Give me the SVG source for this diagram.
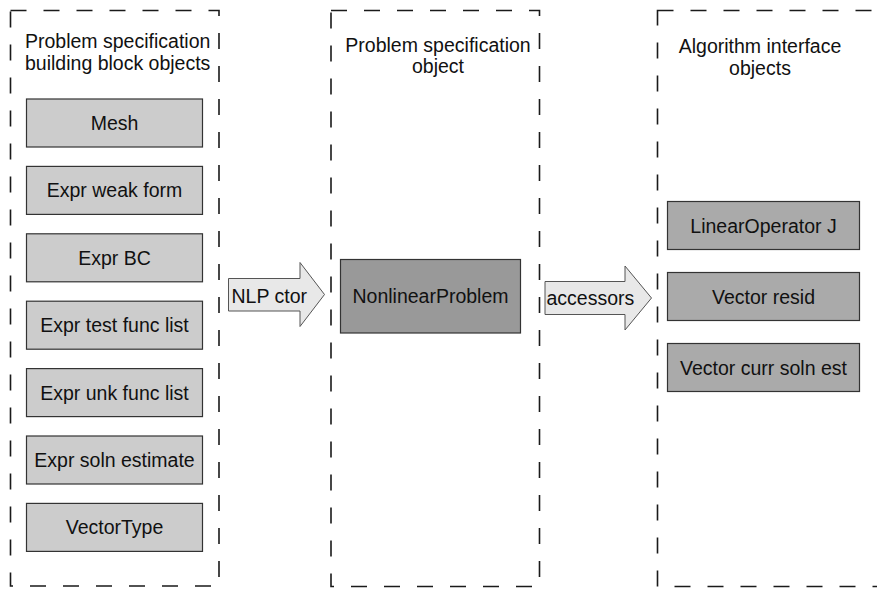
<svg xmlns="http://www.w3.org/2000/svg" width="877" height="589" viewBox="0 0 877 589">
<style>
  .frame { fill: none; stroke: #1a1a1a; stroke-width: 1.6; stroke-dasharray: 16 17; }
  .lbox { fill: #cccccc; stroke: #333333; stroke-width: 1.2; }
  .rbox { fill: #aaaaaa; stroke: #333333; stroke-width: 1.2; }
  .cbox { fill: #999999; stroke: #333333; stroke-width: 1.2; }
  .arrow { fill: #e8e8e8; stroke: #555555; stroke-width: 1; }
  text { font-family: "Liberation Sans", Arial, sans-serif; font-size: 19.5px; fill: #111111; }
  .c { text-anchor: middle; }
</style>
<rect width="877" height="589" fill="#ffffff"/>
<g id="frames">
  <rect class="frame" x="10.5" y="10.5" width="208.5" height="575.5"/>
  <rect class="frame" x="331" y="10.5" width="208.5" height="576"/>
  <rect class="frame" x="657.5" y="10.5" width="240" height="576"/>
</g>
<g id="titles">
  <text x="25" y="48">Problem specification</text>
  <text x="25" y="70">building block objects</text>
  <text class="c" x="438" y="52">Problem specification</text>
  <text class="c" x="438" y="73">object</text>
  <text class="c" x="760" y="53">Algorithm interface</text>
  <text class="c" x="760" y="75">objects</text>
</g>
<g id="node-mesh"><rect class="lbox" x="26.5" y="99" width="176" height="48"/><text class="c" x="114.5" y="130">Mesh</text></g>
<g id="node-weak"><rect class="lbox" x="26.5" y="166.4" width="176" height="48"/><text class="c" x="114.5" y="197.4">Expr weak form</text></g>
<g id="node-bc"><rect class="lbox" x="26.5" y="233.8" width="176" height="48"/><text class="c" x="114.5" y="264.8">Expr BC</text></g>
<g id="node-test"><rect class="lbox" x="26.5" y="301.2" width="176" height="48"/><text class="c" x="114.5" y="332.2">Expr test func list</text></g>
<g id="node-unk"><rect class="lbox" x="26.5" y="368.6" width="176" height="48"/><text class="c" x="114.5" y="399.6">Expr unk func list</text></g>
<g id="node-soln"><rect class="lbox" x="26.5" y="436" width="176" height="48"/><text class="c" x="114.5" y="467">Expr soln estimate</text></g>
<g id="node-vtype"><rect class="lbox" x="26.5" y="503.4" width="176" height="48"/><text class="c" x="114.5" y="534.4">VectorType</text></g>
<g id="node-nlp"><rect class="cbox" x="340.5" y="259.5" width="180" height="73.5"/><text class="c" x="430.5" y="303">NonlinearProblem</text></g>
<g id="node-J"><rect class="rbox" x="667.5" y="201.5" width="192" height="48"/><text class="c" x="763.5" y="232.5">LinearOperator J</text></g>
<g id="node-resid"><rect class="rbox" x="667.5" y="272.5" width="192" height="48"/><text class="c" x="763.5" y="303.5">Vector resid</text></g>
<g id="node-curr"><rect class="rbox" x="667.5" y="343.5" width="192" height="48"/><text class="c" x="763.5" y="374.5">Vector curr soln est</text></g>
<g id="connectors">
  <g id="arrow-ctor">
    <polygon class="arrow" points="228.5,278.5 300,278.5 300,262.5 324.5,294.5 300,326.5 300,311 228.5,311"/>
    <text x="231.5" y="302.5">NLP ctor</text>
  </g>
  <g id="arrow-acc">
    <polygon class="arrow" points="545,281.5 625,281.5 625,266 651.5,298 625,330 625,314.5 545,314.5"/>
    <text x="546.5" y="305">accessors</text>
  </g>
</g>
</svg>
